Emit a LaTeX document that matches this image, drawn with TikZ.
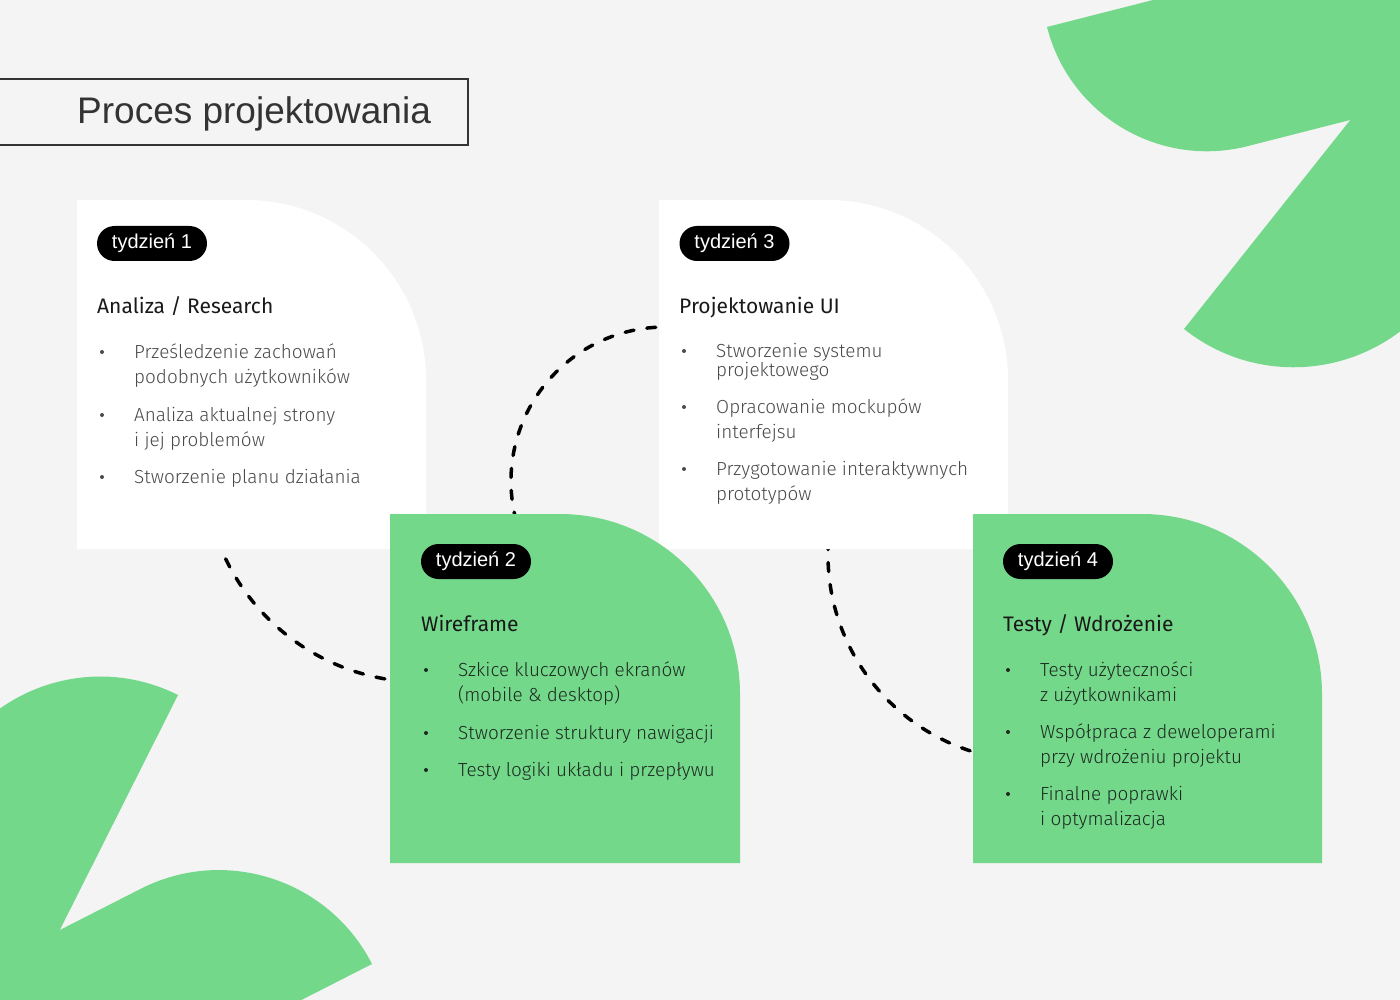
\documentclass[tikz,border=0pt]{standalone}
\usepackage{fontspec}
\setmainfont{Liberation Sans}
\newfontfamily\bodyfont{Fira Sans Light}
\newfontfamily\headfont{Fira Sans}
\usetikzlibrary{calc}
\definecolor{pagebg}{HTML}{F4F4F4}
\definecolor{leafgreen}{HTML}{74D88B}
\definecolor{titlegray}{HTML}{333333}
\definecolor{bodygray}{HTML}{4A4A4A}
\definecolor{bodydark}{HTML}{1C2A20}

\begin{document}
\begin{tikzpicture}[
    x=1pt, y=-1pt,
    leaf/.style={fill=leafgreen},
    card/.style={fill=#1},
    titlebox/.style={draw=titlegray, line width=2pt, minimum width=477pt, minimum height=66pt, anchor=north west, inner sep=0pt},
    titletext/.style={text=titlegray, font=\fontsize{37}{44}\selectfont, anchor=base west, inner sep=0pt},
    pill/.style={fill=black, text=white, rounded corners=17.5pt, minimum width=110pt, minimum height=35pt, inner sep=0pt, font=\fontsize{20}{24}\selectfont},
    heading/.style={font=\headfont\fontsize{21}{25}\selectfont, text=black!90, anchor=base west, inner sep=0pt},
    bullettext/.style={font=\bodyfont\fontsize{18.9}{25}\selectfont, text=#1, anchor=base west, align=left, inner sep=0pt},
    bulletdot/.style={circle, fill=#1, minimum size=4pt, inner sep=0pt},
    link/.style={draw=black, line width=3.5pt, dash pattern=on 9pt off 13pt, line cap=round}
]
\useasboundingbox (0,0) rectangle (1400,1000);
\clip (0,0) rectangle (1400,1000);
\fill[pagebg] (0,0) rectangle (1400,1000);

% Decorative leaves
\fill[leaf] (1047,27) arc[start angle=165.7, end angle=75.7, radius=165] -- ++(-14.3:400) -- ($(1047,27)+(-14.3:400)$) -- cycle;
\fill[leaf] (1184,329) arc[start angle=128.5, end angle=-51.5, radius=176] -- cycle;
\fill[leaf] (178,695) arc[start angle=-63.3, end angle=-243.3, radius=173] -- cycle;
\fill[leaf] (372,964) arc[start angle=-27, end angle=-117, radius=172] -- ++(153:400) -- ($(372,964)+(153:400)$) -- cycle;

% Title
\node[titlebox] (title) at (-10,78) {};
\node[titletext] (titlelabel) at (77,124) {Proces projektowania};

% Dashed links between weeks
\coordinate (w1w2) at (217.1,538.6);
\coordinate (w2w3) at (516.2,520.9);
\coordinate (w3w4) at (828.5,540.6);
\draw[link] (w1w2) arc[start angle=160, end angle=95, radius=218];
\draw[link] (w2w3) arc[start angle=165, end angle=271, radius=154];
\draw[link] (w3w4) arc[start angle=184, end angle=104, radius=206];

% Cards
\fill[card=white] (77,200) -- (246,200) arc[start angle=-90, end angle=0, radius=180] -- (426,549) -- (77,549) -- cycle;
\fill[card=white] (659,200) -- (828,200) arc[start angle=-90, end angle=0, radius=180] -- (1008,549) -- (659,549) -- cycle;
\fill[card=leafgreen] (390,514) -- (560,514) arc[start angle=-90, end angle=0, radius=180] -- (740,863) -- (390,863) -- cycle;
\fill[card=leafgreen] (973,514) -- (1142,514) arc[start angle=-90, end angle=0, radius=180] -- (1322,863) -- (973,863) -- cycle;

% Week 1 (multi-line items sit on their last baseline)
\node[pill] (t1) at (152,243.5) {tydzień 1};
\node[heading] (h1) at (97,313) {Analiza / Research};
\node[bulletdot=bodygray] (b11) at (102,352) {};
\node[bullettext=bodygray] (i11) at (134,383) {Prześledzenie zachowań\\podobnych użytkowników};
\node[bulletdot=bodygray] (b12) at (102,415) {};
\node[bullettext=bodygray] (i12) at (134,446) {Analiza aktualnej strony\\i jej problemów};
\node[bulletdot=bodygray] (b13) at (102,477) {};
\node[bullettext=bodygray] (i13) at (134,483) {Stworzenie planu działania};

% Week 2
\node[pill] (t2) at (476,561.5) {tydzień 2};
\node[heading] (h2) at (421,631) {Wireframe};
\node[bulletdot=bodydark] (b21) at (426,670) {};
\node[bullettext=bodydark] (i21) at (458,701) {Szkice kluczowych ekranów\\(mobile \& desktop)};
\node[bulletdot=bodydark] (b22) at (426,733) {};
\node[bullettext=bodydark] (i22) at (458,739) {Stworzenie struktury nawigacji};
\node[bulletdot=bodydark] (b23) at (426,770) {};
\node[bullettext=bodydark] (i23) at (458,776) {Testy logiki układu i przepływu};

% Week 3
\node[pill] (t3) at (734.5,243.5) {tydzień 3};
\node[heading] (h3) at (679,313) {Projektowanie UI};
\node[bulletdot=bodygray] (b31) at (684,351) {};
\node[bullettext=bodygray] (i31) at (716,376) {Stworzenie systemu\\[-6pt]projektowego};
\node[bulletdot=bodygray] (b32) at (684,407) {};
\node[bullettext=bodygray] (i32) at (716,438) {Opracowanie mockupów\\interfejsu};
\node[bulletdot=bodygray] (b33) at (684,469) {};
\node[bullettext=bodygray] (i33) at (716,500) {Przygotowanie interaktywnych\\prototypów};

% Week 4
\node[pill] (t4) at (1058,561.5) {tydzień 4};
\node[heading] (h4) at (1003,631) {Testy / Wdrożenie};
\node[bulletdot=bodydark] (b41) at (1008,670) {};
\node[bullettext=bodydark] (i41) at (1040,701) {Testy użyteczności\\z użytkownikami};
\node[bulletdot=bodydark] (b42) at (1008,732) {};
\node[bullettext=bodydark] (i42) at (1040,763) {Współpraca z deweloperami\\przy wdrożeniu projektu};
\node[bulletdot=bodydark] (b43) at (1008,794) {};
\node[bullettext=bodydark] (i43) at (1040,825) {Finalne poprawki\\i optymalizacja};

\end{tikzpicture}
\end{document}
